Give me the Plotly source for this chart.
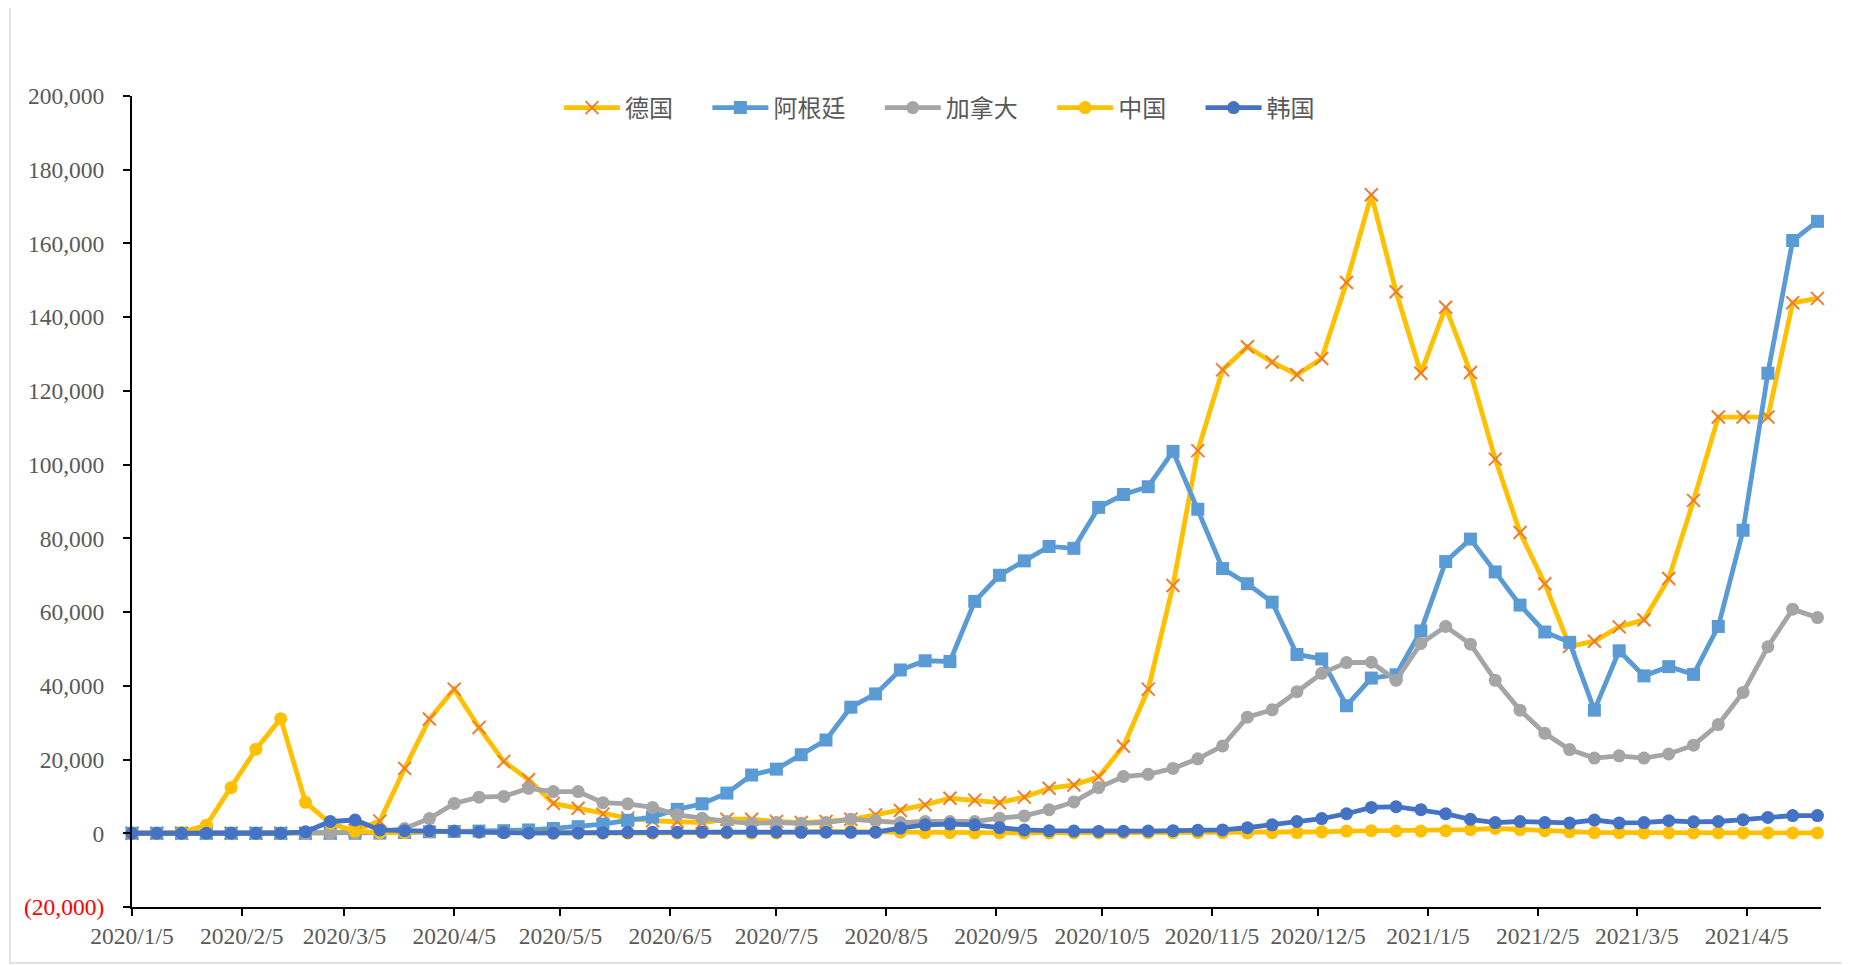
import pandas as pd
import plotly.graph_objects as go

# weekly dates, 2020/1/5 .. 2021/4/25
dates = pd.date_range("2020-01-05", periods=69, freq="7D")

germany = [0, 0, 0, 0, 10, 2, 0, 2, 50, 800, 3300, 17600, 31000, 39100, 28700, 19500, 14500,
           8100, 6800, 5200, 4100, 3400, 3200, 2900, 3800, 3800, 3200, 2900, 3200, 3800, 5000,
           6200, 7700, 9500, 9000, 8300, 9800, 12200, 13100, 15300, 23600, 39100, 67200, 103800,
           125700, 132000, 127800, 124400, 128800, 149400, 173200, 146900, 124800, 142700, 125000,
           101500, 81600, 67700, 50700, 52100, 56000, 57900, 69100, 90300, 112900, 112900, 112900,
           143900, 145100]
argentina = [0, 0, 0, 0, 0, 0, 0, 0, 0, 0, 30, 200, 400, 500, 600, 700, 900, 1300, 1800, 2500,
             3500, 4400, 6500, 8000, 10900, 15800, 17400, 21300, 25300, 34200, 37800, 44300, 46800,
             46600, 62900, 70000, 73900, 77800, 77300, 88400, 91900, 94000, 103600, 87900, 71800,
             67700, 62700, 48500, 47300, 34600, 42100, 43000, 54900, 73700, 79800, 70900, 61900,
             54600, 51800, 33400, 49500, 42700, 45200, 43100, 56100, 82200, 124800, 160800, 166000]
canada = [0, 0, 0, 0, 0, 0, 0, 0, 0, 50, 300, 1300, 4000, 8100, 9800, 10000, 12200, 11300, 11300,
          8300, 8000, 7000, 5000, 4100, 3200, 2700, 2900, 2700, 2900, 3800, 3400, 2900, 3200, 3200,
          3200, 4100, 4700, 6400, 8500, 12400, 15400, 16000, 17600, 20200, 23700, 31500, 33500,
          38400, 43400, 46300, 46400, 41500, 51500, 56100, 51300, 41500, 33400, 27100, 22700,
          20400, 21000, 20400, 21500, 23900, 29500, 38200, 50600, 60800, 58500]
china = [0, 0, 200, 2200, 12400, 22800, 31100, 8400, 2700, 600, 150, 150, 500, 600, 300, 200, 100,
         50, 50, 30, 30, 30, 100, 200, 100, 50, 100, 300, 500, 600, 400, 300, 200, 150, 100, 100,
         100, 100, 100, 100, 150, 150, 200, 200, 200, 100, 150, 200, 400, 600, 700, 600, 600, 700,
         1000, 1300, 1000, 700, 400, 200, 150, 100, 100, 100, 100, 100, 100, 100, 100]
korea = [0, 0, 0, 0, 0, 0, 0, 400, 3200, 3600, 900, 700, 650, 550, 350, 200, 80, 60, 100, 150, 250,
         250, 300, 350, 300, 400, 350, 250, 300, 250, 300, 1400, 2300, 2500, 2300, 1500, 900, 700,
         600, 500, 550, 600, 700, 800, 900, 1500, 2300, 3200, 4000, 5300, 7000, 7200, 6400, 5300,
         3800, 2900, 3200, 2900, 2800, 3600, 2800, 2900, 3400, 3100, 3200, 3700, 4300, 4800, 4800]

x_tick_dates = ["2020-01-05", "2020-02-05", "2020-03-05", "2020-04-05", "2020-05-05", "2020-06-05",
                "2020-07-05", "2020-08-05", "2020-09-05", "2020-10-05", "2020-11-05", "2020-12-05",
                "2021-01-05", "2021-02-05", "2021-03-05", "2021-04-05"]
x_tick_text = ["2020/1/5", "2020/2/5", "2020/3/5", "2020/4/5", "2020/5/5", "2020/6/5", "2020/7/5",
               "2020/8/5", "2020/9/5", "2020/10/5", "2020/11/5", "2020/12/5", "2021/1/5",
               "2021/2/5", "2021/3/5", "2021/4/5"]
y_tick_vals = [-20000, 0, 20000, 40000, 60000, 80000, 100000, 120000, 140000, 160000, 180000, 200000]
y_tick_text = ['<span style="color:#FF0000">(20,000)</span>', "0", "20,000", "40,000", "60,000",
               "80,000", "100,000", "120,000", "140,000", "160,000", "180,000", "200,000"]

PAD = "\u3000\u00a0"  # legend spacing
LW = 4.8
fig = go.Figure()
fig.add_trace(go.Scatter(x=dates, y=germany, name="德国" + PAD, mode="lines+markers",
                         line=dict(color="#FFC000", width=LW),
                         marker=dict(symbol="x-thin", size=13, color="#ED7D31",
                                     line=dict(color="#ED7D31", width=2)),
                         cliponaxis=False))
fig.add_trace(go.Scatter(x=dates, y=argentina, name="阿根廷" + PAD, mode="lines+markers",
                         line=dict(color="#5B9BD5", width=LW),
                         marker=dict(symbol="square", size=13, color="#5B9BD5"),
                         cliponaxis=False))
fig.add_trace(go.Scatter(x=dates, y=canada, name="加拿大" + PAD, mode="lines+markers",
                         line=dict(color="#A5A5A5", width=LW),
                         marker=dict(symbol="circle", size=13, color="#A5A5A5"),
                         cliponaxis=False))
fig.add_trace(go.Scatter(x=dates, y=china, name="中国" + PAD, mode="lines+markers",
                         line=dict(color="#FFC000", width=LW),
                         marker=dict(symbol="circle", size=13, color="#FFC000"),
                         cliponaxis=False))
fig.add_trace(go.Scatter(x=dates, y=korea, name="韩国", mode="lines+markers",
                         line=dict(color="#4472C4", width=LW),
                         marker=dict(symbol="circle", size=13, color="#4472C4"),
                         cliponaxis=False))

# page body has an 8px margin; figure coordinates are screen coordinates minus 8
OFF = 8
W, H = 1842, 957
L = 132 - OFF
T = 96 - OFF
R = W - (1821 - OFF)
B = H - (907 - OFF)
pw, ph = W - L - R, H - T - B

def px2paper_x(px):
    return (px - OFF - L) / pw

def py2paper_y(py):
    return (H - B - (py - OFF)) / ph

fig.update_layout(
    width=W, height=H, autosize=False,
    margin=dict(l=L, r=R, t=T, b=B, pad=0),
    paper_bgcolor="white", plot_bgcolor="white",
    showlegend=True,
    legend=dict(orientation="h", x=px2paper_x(559), xanchor="left",
                y=py2paper_y(108), yanchor="middle",
                font=dict(family="Noto Sans CJK SC", size=24, color="#595959"),
                itemwidth=56, bgcolor="rgba(0,0,0,0)"),
    xaxis=dict(type="date", range=["2020-01-05", "2021-04-26"],
               tickvals=x_tick_dates, ticktext=x_tick_text,
               showgrid=False, zeroline=False,
               showline=True, linecolor="black", linewidth=2,
               ticks="outside", ticklen=7, tickwidth=2, tickcolor="black",
               tickfont=dict(family="Liberation Serif", size=23.5, color="#595959")),
    yaxis=dict(range=[-20000, 200000], tickvals=y_tick_vals, ticktext=y_tick_text,
               showgrid=False, zeroline=False,
               showline=True, linecolor="black", linewidth=2,
               ticks="outside", ticklen=7, tickwidth=2, tickcolor="black",
               ticklabelstandoff=14,
               tickfont=dict(family="Liberation Serif", size=23.5, color="#595959")),
    shapes=[dict(type="rect", xref="paper", yref="paper",
                 x0=px2paper_x(10), x1=px2paper_x(1847),
                 y0=py2paper_y(963), y1=py2paper_y(-5),
                 line=dict(color="#D9D9D9", width=1.5), fillcolor="rgba(0,0,0,0)",
                 layer="below")],
)

fig.write_html("out.html")
